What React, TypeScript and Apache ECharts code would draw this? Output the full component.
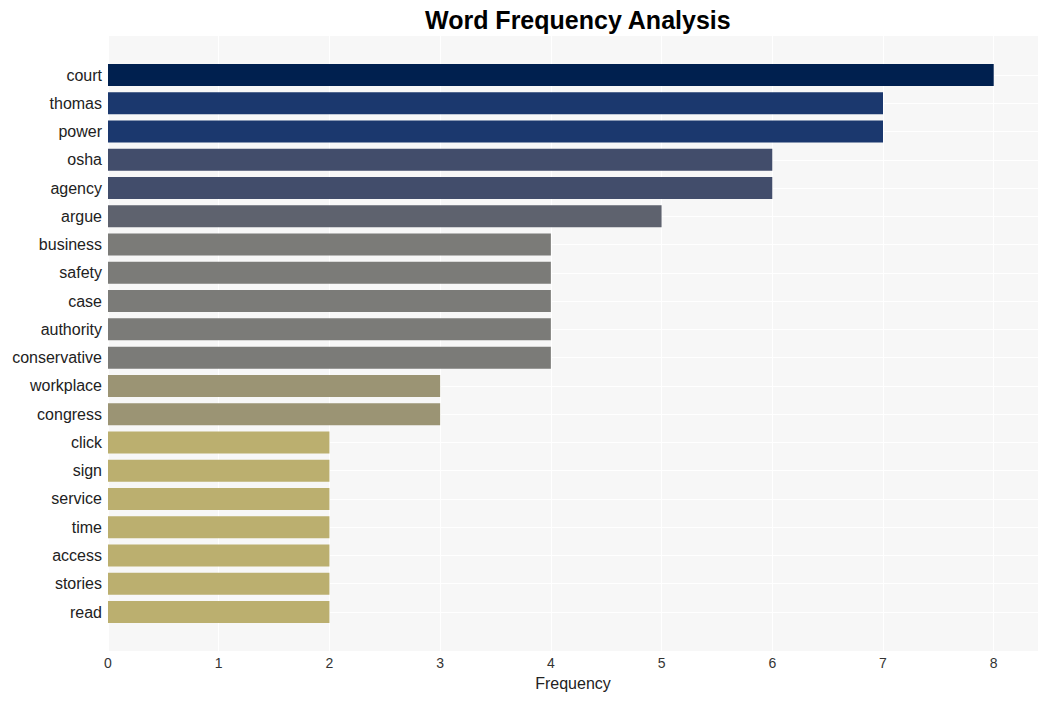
import React, { useEffect, useRef } from "react";
import * as echarts from "echarts";

const words = ["court", "thomas", "power", "osha", "agency", "argue", "business", "safety", "case", "authority", "conservative", "workplace", "congress", "click", "sign", "service", "time", "access", "stories", "read"];
const counts = [8, 7, 7, 6, 6, 5, 4, 4, 4, 4, 4, 3, 3, 2, 2, 2, 2, 2, 2, 2];
const colorByCount: Record<number, string> = {
  8: "#00204f",
  7: "#1b386e",
  6: "#424d6b",
  5: "#5e626e",
  4: "#7b7b78",
  3: "#9b9474",
  2: "#bbaf6f",
};
const xTicks = [0, 1, 2, 3, 4, 5, 6, 7, 8];

export default function App() {
  const ref = useRef<HTMLDivElement>(null);
  useEffect(() => {
    if (!ref.current) return;
    const chart = echarts.init(ref.current, undefined, { renderer: "svg" });
    const font = "'Liberation Sans', Arial, sans-serif";
    chart.setOption({
      animation: false,
      backgroundColor: "#ffffff",
      title: {
        text: "Word Frequency Analysis",
        left: 420,
        top: 2,
        textStyle: { fontFamily: font, fontWeight: "bold", fontSize: 25, color: "#000" },
      },
      grid: [
        { left: 108, right: 10, top: 36, bottom: 50, show: true, backgroundColor: "#f7f7f7", borderWidth: 0 },
        { left: 108, right: 10, top: 75, bottom: 89 },
      ],
      xAxis: [
        {
          type: "value",
          gridIndex: 0,
          min: 0,
          max: 8.4,
          interval: 1,
          name: "Frequency",
          nameLocation: "middle",
          nameGap: 24,
          nameTextStyle: { fontFamily: font, fontSize: 16, color: "#222" },
          axisLine: { show: false },
          axisTick: { show: false },
          axisLabel: {
            fontFamily: font,
            fontSize: 14,
            color: "#333",
            margin: 5,
            showMaxLabel: false,
            formatter: (v: number) => (xTicks.includes(v) ? String(v) : ""),
          },
          splitLine: { show: true, lineStyle: { color: "#ffffff", width: 1 } },
        },
        {
          type: "value",
          gridIndex: 1,
          min: 0,
          max: 8.4,
          interval: 1,
          show: false,
        },
      ],
      yAxis: [
        { type: "value", gridIndex: 0, show: false, splitLine: { show: false } },
        {
          type: "category",
          gridIndex: 1,
          data: words,
          inverse: true,
          boundaryGap: false,
          axisLine: { show: false },
          axisTick: { show: false },
          axisLabel: { fontFamily: font, fontSize: 16, color: "#222", margin: 6 },
          splitLine: { show: true, lineStyle: { color: "#ffffff", width: 1 } },
        },
      ],
      series: [
        {
          type: "bar",
          xAxisIndex: 1,
          yAxisIndex: 1,
          barWidth: 22,
          data: counts.map((c) => ({ value: c, itemStyle: { color: colorByCount[c] } })),
        },
      ],
    });
    return () => chart.dispose();
  }, []);
  return <div ref={ref} style={{ width: 1048, height: 701, position: "absolute", left: 0, top: 0 }} />;
}
